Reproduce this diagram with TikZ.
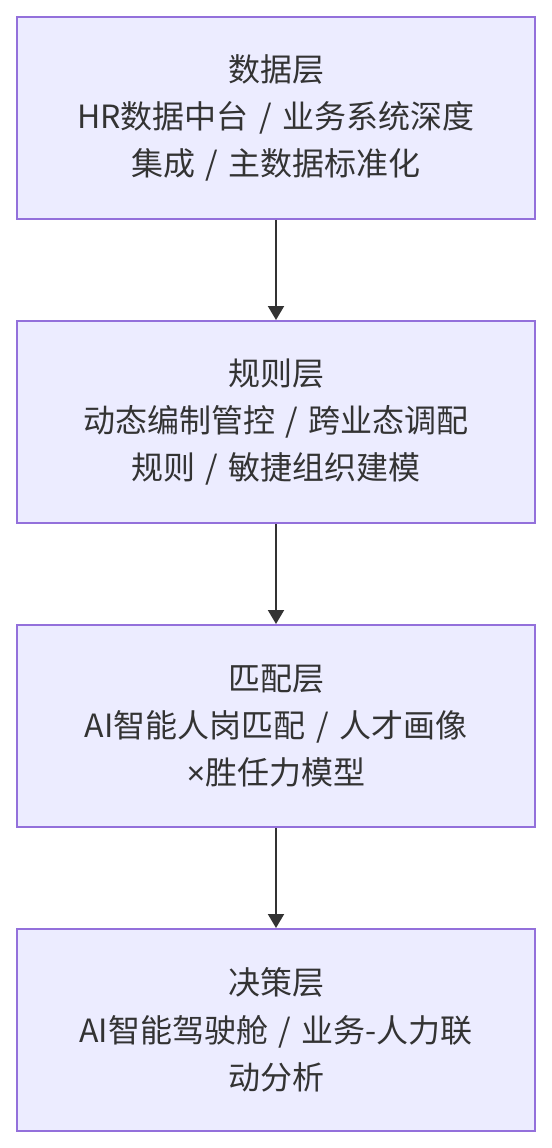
\documentclass[tikz,border=0pt]{standalone}
\usepackage{fontspec}
\setmainfont{Noto Sans CJK SC}
\newfontfamily\latinfont{Liberation Sans}
\usetikzlibrary{positioning,arrows.meta}
\definecolor{layerfill}{HTML}{ECECFF}
\definecolor{layerline}{HTML}{9370DB}
\definecolor{textgray}{HTML}{333333}
\newcommand{\slashsep}{\hspace{0.33em}/\hspace{0.33em}}
\tikzset{
  layer/.style={draw=layerline, fill=layerfill, line width=1.5pt,
    minimum width=388.5pt, minimum height=151.5pt, inner sep=0pt,
    align=center, text=textgray, font=\fontsize{24pt}{35.5pt}\selectfont},
  flow/.style={-{Triangle[width=12pt,length=10.5pt]}, draw=textgray, line width=1.5pt}
}
\begin{document}
\begin{tikzpicture}[node distance=75pt]
                \useasboundingbox (0,0) rectangle (414pt,-861pt);
                % Layers
                \node[layer] (data) at (207pt,-88.5pt) {数据层\\HR数据中台\slashsep 业务系统深度\\集成\slashsep 主数据标准化};
                \node[layer, below=of data] (rule) {规则层\\动态编制管控\slashsep 跨业态调配\\规则\slashsep 敏捷组织建模};
                \node[layer, below=of rule] (match) {匹配层\\AI智能人岗匹配\slashsep 人才画像\\{\latinfont ×}胜任力模型};
                \node[layer, below=of match] (decide) {决策层\\AI智能驾驶舱\slashsep 业务-人力联\\动分析};
                
                % Arrows
                \draw[flow] (data) -- (rule);
                \draw[flow] (rule) -- (match);
                \draw[flow] (match) -- (decide);
              \end{tikzpicture}
\end{document}
